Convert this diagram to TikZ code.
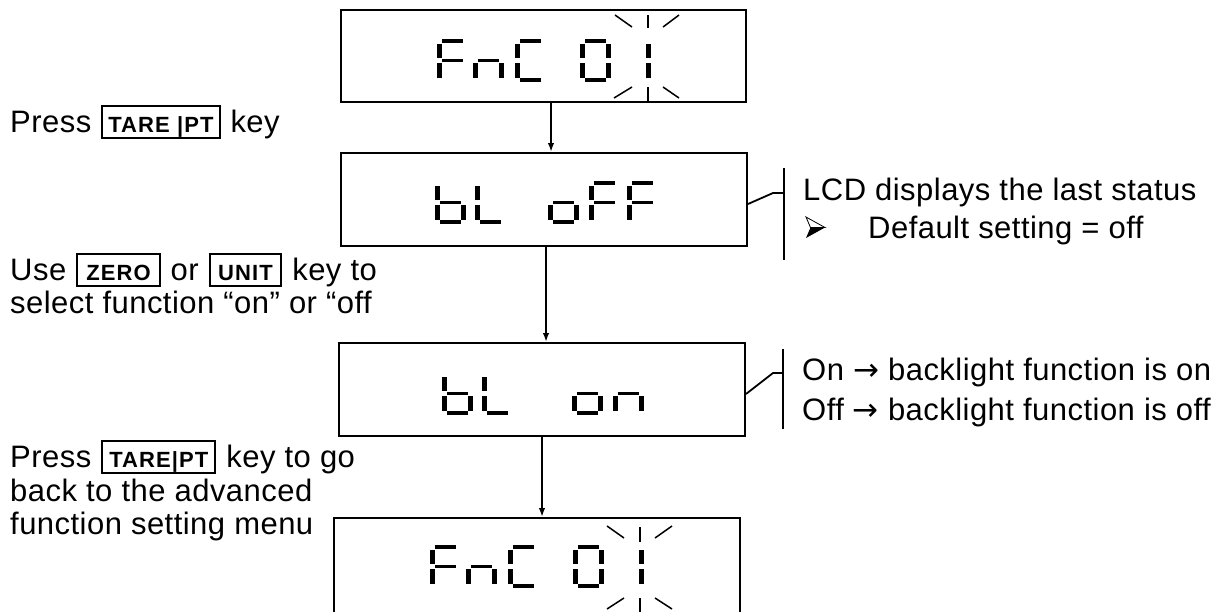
\documentclass[tikz,border=0pt]{standalone}
\usepackage{fontspec}
\setmainfont{Liberation Sans}[LetterSpace=1.5]
\newfontfamily\keyfont{Liberation Sans}[LetterSpace=5]
\newfontfamily\symfont{DejaVu Sans}
\usetikzlibrary{arrows.meta}
\newcommand\segA[2]{\fill (#1+5,#2) rectangle (#1+26,#2+4);}
\newcommand\segB[2]{\fill (#1+26,#2+4.5) rectangle (#1+31,#2+19);}
\newcommand\segC[2]{\fill (#1+26,#2+24) rectangle (#1+31,#2+38.5);}
\newcommand\segD[2]{\fill (#1+5,#2+39) rectangle (#1+26,#2+43);}
\newcommand\segE[2]{\fill (#1,#2+24) rectangle (#1+5,#2+38.5);}
\newcommand\segF[2]{\fill (#1,#2+4.5) rectangle (#1+5,#2+19);}
\newcommand\segG[2]{\fill (#1+5,#2+19.5) rectangle (#1+26,#2+23);}
\newcommand\lcdF[2]{\segA{#1}{#2}\segF{#1}{#2}\segG{#1}{#2}\segE{#1}{#2}}
\newcommand\lcdn[2]{\segG{#1}{#2}\segE{#1}{#2}\segC{#1}{#2}}
\newcommand\lcdC[2]{\segA{#1}{#2}\segF{#1}{#2}\segE{#1}{#2}\segD{#1}{#2}}
\newcommand\lcdZero[2]{\segA{#1}{#2}\segB{#1}{#2}\segC{#1}{#2}\segD{#1}{#2}\segE{#1}{#2}\segF{#1}{#2}}
\newcommand\lcdOne[2]{\segB{#1}{#2}\segC{#1}{#2}}
\newcommand\lcdb[2]{\segF{#1}{#2}\segE{#1}{#2}\segG{#1}{#2}\segC{#1}{#2}\segD{#1}{#2}}
\newcommand\lcdL[2]{\segF{#1}{#2}\segE{#1}{#2}\segD{#1}{#2}}
\newcommand\lcdo[2]{\segG{#1}{#2}\segE{#1}{#2}\segC{#1}{#2}\segD{#1}{#2}}
\newcommand\keybx[2]{{\setlength\fboxsep{0pt}\setlength\fboxrule{2pt}\fbox{\kern#1\rule[-5pt]{0pt}{30pt}{\keyfont\bfseries\fontsize{22}{24}\selectfont #2}\kern#1}}}
\newcommand\kgap{\hspace{10pt}}
\begin{document}
\begin{tikzpicture}[x=1pt,y=-1pt,
  lcd/.style={draw, line width=2pt, inner sep=0pt},
  arr/.style={line width=1.8pt, -{Latex[length=9pt,width=6.5pt]}},
  link/.style={line width=1.8pt},
  ray/.style={line width=1.5pt},
  txt/.style={anchor=base west, inner sep=0pt, font=\fontsize{31}{36}\selectfont}]
\useasboundingbox (0,0) rectangle (1227,611);
% LCD boxes
\node[lcd, minimum width=405pt, minimum height=92pt] (box1) at (543.5,56) {};
\node[lcd, minimum width=406pt, minimum height=93pt] (box2) at (544,199.5) {};
\node[lcd, minimum width=406pt, minimum height=93pt] (box3) at (542,389.5) {};
\node[lcd, minimum width=406pt, minimum height=95pt] (box4) at (537,565.5) {};
% box 1: FnC 01
\lcdF{437}{39}\lcdn{473}{39}\lcdC{515}{39}\lcdZero{580}{39}\lcdOne{620}{39}
\draw[ray] (648,15) -- (648,28);
\draw[ray] (615,15) -- (632,27);
\draw[ray] (663,27) -- (679,15);
\draw[ray] (648,87) -- (648,102);
\draw[ray] (614,98) -- (632,87);
\draw[ray] (663,87) -- (679,98);
% box 2: bL oFF
\lcdb{435}{181}\lcdL{475}{181}\lcdo{548}{181}\lcdF{589}{181}\lcdF{627}{181}
% box 3: bL on
\lcdb{442}{372}\lcdL{482}{372}\lcdo{572}{372}\lcdn{613}{372}
% box 4: FnC 01
\lcdF{430}{545}\lcdn{466}{545}\lcdC{508}{545}\lcdZero{573}{545}\lcdOne{613}{545}
\draw[ray] (640,527) -- (640,542);
\draw[ray] (607,526) -- (624,538);
\draw[ray] (655,538) -- (672,526);
\draw[ray] (640,598) -- (640,613);
\draw[ray] (607,609) -- (624,598);
\draw[ray] (655,598) -- (672,609);
% arrows
\coordinate (ax1) at (551,0);
\coordinate (ax2) at (546,0);
\coordinate (ax3) at (542,0);
\draw[arr] (box1.south -| ax1) -- (box2.north -| ax1);
\draw[arr] (box2.south -| ax2) -- (box3.north -| ax2);
\draw[arr] (box3.south -| ax3) -- (box4.north -| ax3);
% annotation brackets
\coordinate (b1top) at (784,168);
\coordinate (b1bot) at (784,260);
\coordinate (b1mid) at (784,193);
\coordinate (b1k) at (773,193);
\draw[link] (b1top) -- (b1bot);
\draw[link] ([yshift=-4.5pt]box2.east) -- (b1k) -- (b1mid);
\coordinate (b2top) at (783,349);
\coordinate (b2bot) at (783,429);
\coordinate (b2mid) at (783,373);
\coordinate (b2k) at (773,373);
\draw[link] (b2top) -- (b2bot);
\draw[link] ([yshift=-4.5pt]box3.east) -- (b2k) -- (b2mid);
% left texts
\node[txt] (t1) at (10,132) {Press\kgap\keybx{5pt}{TARE |PT}\kgap key};
\node[txt] (t2) at (10,280) {Use\kgap\keybx{8pt}{ZERO}\kgap or\kgap\keybx{7.5pt}{UNIT}\kgap key to};
\node[txt] (t3) at (10,313) {select function “on” or “off};
\node[txt] (t4) at (10,467) {Press\kgap\keybx{6pt}{TARE|PT}\kgap key to go};
\node[txt] (t5) at (10,501) {back to the advanced};
\node[txt] (t6) at (10,534) {function setting menu};
% right texts
\node[txt] (r1) at (803,200) {LCD displays the last status};
\fill[white, draw=black, line width=0.8pt] (806,217) -- (825,227.5) -- (810.5,227.5) -- cycle;
\fill[black] (810.5,227.5) -- (825,227.5) -- (806,238) -- cycle;
\node[txt] (r2) at (868,238) {Default setting = off};
\node[txt] (r3) at (802,380) {On {\symfont →} backlight function is on};
\node[txt] (r4) at (802,420) {Off {\symfont →} backlight function is off};
\end{tikzpicture}
\end{document}
